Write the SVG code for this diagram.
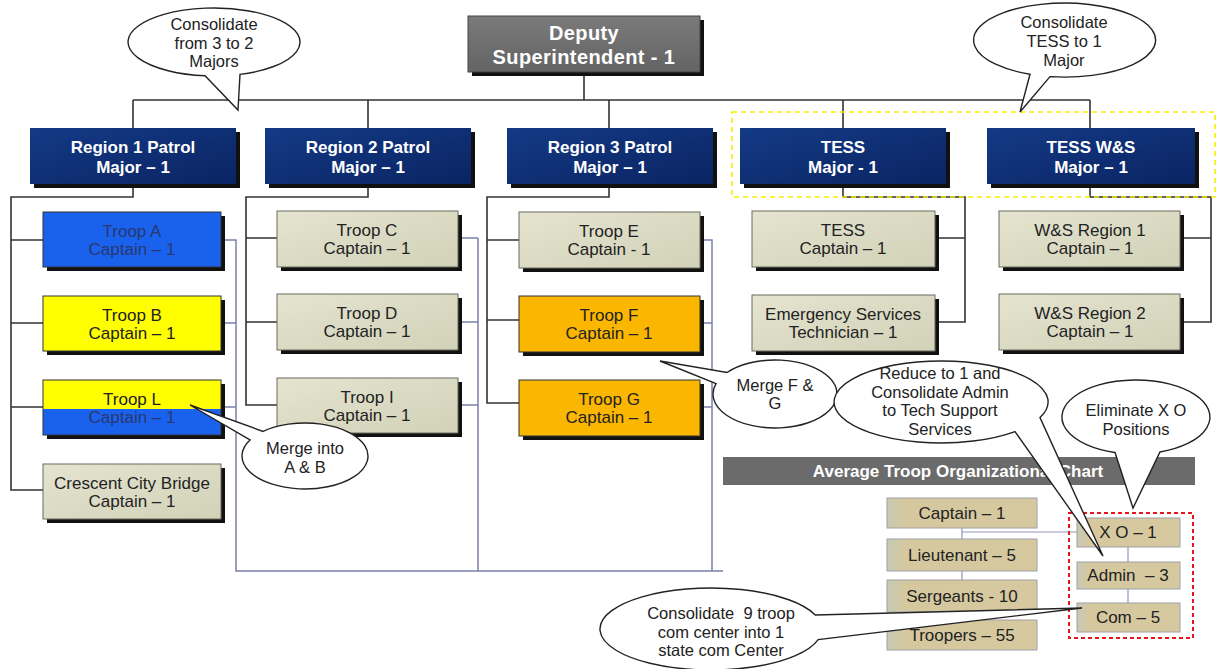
<svg xmlns="http://www.w3.org/2000/svg" width="1231" height="669" viewBox="0 0 1231 669">
<defs>
<linearGradient id="gNavy" x1="0" y1="0" x2="1" y2="1"><stop offset="0" stop-color="#143a86"/><stop offset="1" stop-color="#0a2462"/></linearGradient>
<linearGradient id="gBeige" x1="0" y1="0" x2="1" y2="1"><stop offset="0" stop-color="#e4e4d0"/><stop offset="1" stop-color="#d2d2b8"/></linearGradient>
<linearGradient id="gGray" x1="0" y1="0" x2="0" y2="1"><stop offset="0" stop-color="#7a7a7a"/><stop offset="1" stop-color="#646464"/></linearGradient>
<linearGradient id="gTan" x1="0" y1="0" x2="1" y2="0"><stop offset="0" stop-color="#c6cab4"/><stop offset="0.12" stop-color="#d5c89f"/><stop offset="1" stop-color="#d6c99f"/></linearGradient>
</defs>
<style>
text{font-family:"Liberation Sans",Arial,sans-serif;text-anchor:middle}
.sh{fill:#111}
.navy{fill:url(#gNavy)}
.beige{fill:url(#gBeige);stroke:#6a6a60;stroke-width:1}
.tw{fill:#fff;font-weight:bold;font-size:17px}
.tb{fill:#222;font-size:17px}
.tc{fill:#222;font-size:16.5px}
.conn{fill:none;stroke:#333;stroke-width:1.6}
.frame{fill:none;stroke:#7a80ac;stroke-width:1.5}
.thin{fill:none;stroke:#9098b8;stroke-width:1.2}
.call{fill:#fff;stroke:#222;stroke-width:1.4}
.tan{fill:url(#gTan);stroke:#a0a0a8;stroke-width:1}
</style>
<rect width="1231" height="669" fill="#fff"/>

<g id="connectors">
<path class="frame" d="M222,240 H236 V571 H723 M222,323 H236 M222,407 H236 M458,238 H478 M458,322 H478 M458,405 H478 M478,238 V571 M700,240 H712 V571 M700,323 H712 M700,407 H712"/>
<path class="conn" d="M584,72 V100 M133,100 H1090 M133,100 V128 M368,100 V128 M609,100 V128 M843,100 V128 M1090,100 V128"/>
<path class="conn" d="M133,185 V197 H11 V490 H43 M11,240 H43 M11,323 H43 M11,407 H43"/>
<path class="conn" d="M368,185 V197 H246 V405 H277 M246,238 H277 M246,322 H277"/>
<path class="conn" d="M609,185 V197 H487 V403 H519 M487,240 H519 M487,320 H519"/>
<path class="conn" d="M843,185 V197 H965 V322 H935 M935,238 H965"/>
<path class="conn" d="M1090,185 V197 H1211 V322 H1180 M1180,238 H1211"/>
<path class="thin" d="M962,528 V539 M962,571 V580 M962,532 H1077 M1128,547 V562 M1128,589 V603"/>
</g>

<g id="deputy">
<rect class="sh" x="472" y="20" width="232" height="56"/>
<rect x="468" y="16" width="232" height="56" fill="url(#gGray)" stroke="#444" stroke-width="1"/>
<text class="tw" x="584" y="40" style="font-size:20px;letter-spacing:0.4px">Deputy</text>
<text class="tw" x="584" y="64" style="font-size:20px;letter-spacing:0.4px">Superintendent - 1</text>
</g>

<g id="region1">
<rect class="sh" x="34" y="132" width="206" height="56"/>
<rect class="navy" x="30" y="128" width="206" height="56"/>
<text class="tw" x="133" y="153">Region 1 Patrol</text>
<text class="tw" x="133" y="173">Major – 1</text>
</g>
<g id="region2">
<rect class="sh" x="269" y="132" width="206" height="56"/>
<rect class="navy" x="265" y="128" width="206" height="56"/>
<text class="tw" x="368" y="153">Region 2 Patrol</text>
<text class="tw" x="368" y="173">Major – 1</text>
</g>
<g id="region3">
<rect class="sh" x="511" y="132" width="206" height="56"/>
<rect class="navy" x="507" y="128" width="206" height="56"/>
<text class="tw" x="610" y="153">Region 3 Patrol</text>
<text class="tw" x="610" y="173">Major – 1</text>
</g>
<g id="tess">
<rect class="sh" x="744" y="132" width="206" height="56"/>
<rect class="navy" x="740" y="128" width="206" height="56"/>
<text class="tw" x="843" y="153">TESS</text>
<text class="tw" x="843" y="173">Major - 1</text>
</g>
<g id="tessws">
<rect class="sh" x="991" y="132" width="208" height="56"/>
<rect class="navy" x="987" y="128" width="208" height="56"/>
<text class="tw" x="1091" y="153">TESS W&amp;S</text>
<text class="tw" x="1091" y="173">Major – 1</text>
</g>
<rect id="tess-group" x="732" y="112" width="483" height="85" fill="none" stroke="#f2f000" stroke-width="1.6" stroke-dasharray="5 4"/>

<g id="troopA">
<rect class="sh" x="47" y="216" width="178" height="55"/>
<rect x="43" y="212" width="178" height="55" fill="#1a62ee" stroke="#333" stroke-width="1"/>
<text class="tb" x="132" y="237" style="fill:#27386e">Troop A</text>
<text class="tb" x="132" y="255" style="fill:#27386e">Captain – 1</text>
</g>
<g id="troopB">
<rect class="sh" x="47" y="300" width="178" height="55"/>
<rect x="43" y="296" width="178" height="55" fill="#ffff00" stroke="#333" stroke-width="1"/>
<text class="tb" x="132" y="321">Troop B</text>
<text class="tb" x="132" y="339">Captain – 1</text>
</g>
<g id="troopL">
<rect class="sh" x="47" y="384" width="178" height="55"/>
<rect x="43" y="380" width="178" height="29" fill="#ffff00"/>
<rect x="43" y="409" width="178" height="26" fill="#1a62ee"/>
<rect x="43" y="380" width="178" height="55" fill="none" stroke="#333" stroke-width="1"/>
<text class="tb" x="132" y="405">Troop L</text>
<text class="tb" x="132" y="423" style="fill:#27386e">Captain – 1</text>
</g>
<g id="crescent">
<rect class="sh" x="47" y="468" width="178" height="55"/>
<rect class="beige" x="43" y="464" width="178" height="55"/>
<text class="tb" x="132" y="489">Crescent City Bridge</text>
<text class="tb" x="132" y="507">Captain – 1</text>
</g>

<g id="troopC">
<rect class="sh" x="281" y="215" width="181" height="56"/>
<rect class="beige" x="277" y="211" width="181" height="56"/>
<text class="tb" x="367" y="236">Troop C</text>
<text class="tb" x="367" y="254">Captain – 1</text>
</g>
<g id="troopD">
<rect class="sh" x="281" y="298" width="181" height="56"/>
<rect class="beige" x="277" y="294" width="181" height="56"/>
<text class="tb" x="367" y="319">Troop D</text>
<text class="tb" x="367" y="337">Captain – 1</text>
</g>
<g id="troopI">
<rect class="sh" x="281" y="382" width="181" height="55"/>
<rect class="beige" x="277" y="378" width="181" height="55"/>
<text class="tb" x="367" y="403">Troop I</text>
<text class="tb" x="367" y="421">Captain – 1</text>
</g>

<g id="troopE">
<rect class="sh" x="523" y="216" width="181" height="56"/>
<rect class="beige" x="519" y="212" width="181" height="56"/>
<text class="tb" x="609" y="237">Troop E</text>
<text class="tb" x="609" y="255">Captain - 1</text>
</g>
<g id="troopF">
<rect class="sh" x="523" y="300" width="181" height="56"/>
<rect x="519" y="296" width="181" height="56" fill="#fbb600" stroke="#333" stroke-width="1"/>
<text class="tb" x="609" y="321">Troop F</text>
<text class="tb" x="609" y="339">Captain – 1</text>
</g>
<g id="troopG">
<rect class="sh" x="523" y="384" width="181" height="56"/>
<rect x="519" y="380" width="181" height="56" fill="#fbb600" stroke="#333" stroke-width="1"/>
<text class="tb" x="609" y="405">Troop G</text>
<text class="tb" x="609" y="423">Captain – 1</text>
</g>

<g id="tessCaptain">
<rect class="sh" x="756" y="215" width="183" height="56"/>
<rect class="beige" x="752" y="211" width="183" height="56"/>
<text class="tb" x="843" y="236">TESS</text>
<text class="tb" x="843" y="254">Captain – 1</text>
</g>
<g id="emergency">
<rect class="sh" x="756" y="299" width="183" height="56"/>
<rect class="beige" x="752" y="295" width="183" height="56"/>
<text class="tb" x="843" y="320">Emergency Services</text>
<text class="tb" x="843" y="338">Technician – 1</text>
</g>
<g id="ws1">
<rect class="sh" x="1003" y="215" width="181" height="56"/>
<rect class="beige" x="999" y="211" width="181" height="56"/>
<text class="tb" x="1090" y="236">W&amp;S Region 1</text>
<text class="tb" x="1090" y="254">Captain – 1</text>
</g>
<g id="ws2">
<rect class="sh" x="1003" y="298" width="181" height="56"/>
<rect class="beige" x="999" y="294" width="181" height="56"/>
<text class="tb" x="1090" y="319">W&amp;S Region 2</text>
<text class="tb" x="1090" y="337">Captain – 1</text>
</g>

<g id="chart-title">
<rect x="723" y="457" width="472" height="28" fill="#6b6b6b"/>
<text x="958" y="477" fill="#fff" style="font-weight:bold;font-size:17px">Average Troop Organizational Chart</text>
</g>
<g id="captain"><rect class="tan" x="887" y="498" width="150" height="30"/><text class="tb" x="962" y="519">Captain – 1</text></g>
<g id="lieutenant"><rect class="tan" x="887" y="539" width="150" height="32"/><text class="tb" x="962" y="561">Lieutenant – 5</text></g>
<g id="sergeants"><rect class="tan" x="887" y="580" width="150" height="32"/><text class="tb" x="962" y="602">Sergeants - 10</text></g>
<g id="troopers"><rect class="tan" x="887" y="620" width="150" height="30"/><text class="tb" x="962" y="641">Troopers – 55</text></g>
<g id="xo"><rect class="tan" x="1077" y="518" width="103" height="29"/><text class="tb" x="1128" y="538">X O – 1</text></g>
<g id="admin"><rect class="tan" x="1077" y="562" width="103" height="27"/><text class="tb" x="1128" y="581" xml:space="preserve">Admin  – 3</text></g>
<g id="com"><rect class="tan" x="1077" y="603" width="103" height="29"/><text class="tb" x="1128" y="623">Com – 5</text></g>
<rect id="xo-group" x="1069" y="513" width="124" height="125" fill="none" stroke="#e8141c" stroke-width="2" stroke-dasharray="4 3"/>

<g id="callout1">
<path class="call" d="M240,74.4 A86,34 0 1 0 205,75.8 L238,110 Z"/>
<text class="tc" x="214" y="30">Consolidate</text>
<text class="tc" x="214" y="49">from 3 to 2</text>
<text class="tc" x="214" y="67">Majors</text>
</g>
<g id="callout2">
<path class="call" d="M1050,76.6 A91,37 0 1 0 1030,74.3 L1020,112 Z"/>
<text class="tc" x="1064" y="28">Consolidate</text>
<text class="tc" x="1064" y="47">TESS to 1</text>
<text class="tc" x="1064" y="66">Major</text>
</g>
<g id="callout3">
<path class="call" d="M250,439.9 A63,33 0 1 0 263,431.4 L190,405 Z"/>
<text class="tc" x="305" y="454">Merge into</text>
<text class="tc" x="305" y="473">A &amp; B</text>
</g>
<g id="callout4">
<path class="call" d="M716,383.6 A62,34 0 1 0 727,372.5 L660,361 Z"/>
<text class="tc" x="775" y="391">Merge F &amp;</text>
<text class="tc" x="775" y="409">G</text>
</g>
<g id="callout5">
<path class="call" d="M1040,417.6 A107,41 0 1 0 1015,431.6 L1103,556 Z"/>
<text class="tc" x="940" y="379">Reduce to 1 and</text>
<text class="tc" x="940" y="398">Consolidate Admin</text>
<text class="tc" x="940" y="416">to Tech Support</text>
<text class="tc" x="940" y="435">Services</text>
</g>
<g id="callout6">
<path class="call" d="M1160,452 A74,37 0 1 0 1115,452.5 L1133,508 Z"/>
<text class="tc" x="1136" y="416">Eliminate X O</text>
<text class="tc" x="1136" y="435">Positions</text>
</g>
<g id="callout7">
<path class="call" d="M818.2,639.6 A111,41 0 1 1 815.3,615 L1082,608 Z"/>
<text class="tc" x="721" y="619" xml:space="preserve">Consolidate  9 troop</text>
<text class="tc" x="721" y="638">com center into 1</text>
<text class="tc" x="721" y="656">state com Center</text>
</g>
</svg>
